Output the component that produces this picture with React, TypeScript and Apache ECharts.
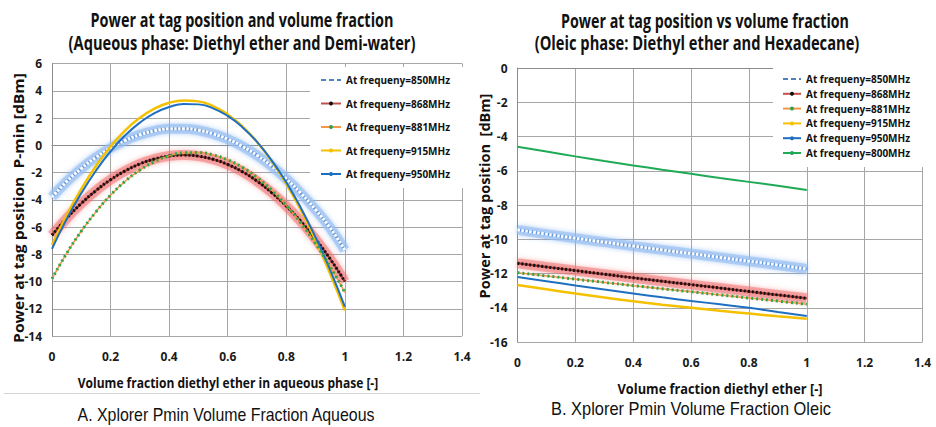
import React, { useEffect, useRef } from "react";
import * as echarts from "echarts";

// ---------- data ----------
const X_AQ = [0, 0.05, 0.1, 0.15, 0.2, 0.25, 0.3, 0.35, 0.4, 0.45, 0.5, 0.55, 0.6, 0.65, 0.7, 0.75, 0.8, 0.85, 0.9, 0.95, 1.0];
const AQ_850 = [-3.8, -2.67, -1.71, -0.89, -0.2, 0.36, 0.77, 1.06, 1.21, 1.22, 1.1, 0.84, 0.45, -0.08, -0.74, -1.53, -2.47, -3.53, -4.73, -6.07, -7.7];
const AQ_868 = [-6.6, -5.36, -4.27, -3.33, -2.53, -1.88, -1.37, -1.01, -0.79, -0.72, -0.8, -1.03, -1.41, -1.94, -2.63, -3.47, -4.46, -5.6, -6.9, -8.35, -10.0];
const AQ_881 = [-9.8, -7.93, -6.31, -4.89, -3.66, -2.64, -1.82, -1.2, -0.78, -0.56, -0.54, -0.71, -1.07, -1.62, -2.36, -3.29, -4.41, -5.72, -7.22, -8.92, -10.8];
const AQ_915 = [-7.3, -5.14, -3.21, -1.52, -0.09, 1.09, 2.01, 2.69, 3.12, 3.29, 3.22, 2.87, 2.26, 1.39, 0.25, -1.15, -2.83, -4.77, -6.98, -9.45, -12.14];
const AQ_950 = [-7.6, -5.42, -3.52, -1.87, -0.45, 0.73, 1.66, 2.36, 2.81, 3.03, 3.0, 2.71, 2.15, 1.33, 0.25, -1.11, -2.72, -4.6, -6.75, -9.16, -11.85];

const X_OL = [0, 0.1, 0.2, 0.3, 0.4, 0.5, 0.6, 0.7, 0.8, 0.9, 1.0];
const OL_850 = [-9.45, -9.7, -9.94, -10.17, -10.4, -10.62, -10.84, -11.06, -11.28, -11.5, -11.74];
const OL_868 = [-11.4, -11.62, -11.83, -12.04, -12.25, -12.45, -12.65, -12.85, -13.05, -13.25, -13.45];
const OL_881 = [-11.95, -12.14, -12.33, -12.52, -12.71, -12.89, -13.07, -13.25, -13.43, -13.61, -13.8];
const OL_915 = [-12.67, -12.92, -13.17, -13.4, -13.62, -13.82, -14.0, -14.18, -14.34, -14.5, -14.64];
const OL_950 = [-12.2, -12.45, -12.7, -12.94, -13.17, -13.39, -13.6, -13.8, -14.0, -14.25, -14.48];
const OL_800 = [-4.6, -4.88, -5.16, -5.43, -5.69, -5.94, -6.18, -6.42, -6.65, -6.88, -7.12];

const NAMES_AQ = ["At frequeny=850MHz", "At frequeny=868MHz", "At frequeny=881MHz", "At frequeny=915MHz", "At frequeny=950MHz"];
const NAMES_OL = ["At frequeny=850MHz", "At frequeny=868MHz", "At frequeny=881MHz", "At frequeny=915MHz", "At frequeny=950MHz", "At frequeny=800MHz"];

const TITLE_AQ = ["Power at tag position and volume fraction", "(Aqueous phase: Diethyl ether and Demi-water)"];
const TITLE_OL = ["Power at tag position vs volume fraction", "(Oleic phase: Diethyl ether and Hexadecane)"];
const XNAME_AQ = "Volume fraction diethyl ether in aqueous phase [-]";
const XNAME_OL = "Volume fraction diethyl ether [-]";
const YNAME_AQ = "Power at tag position  P-min [dBm]";
const YNAME_OL = "Power at tag position  [dBm]";
const CAPTION_A = "A. Xplorer Pmin Volume Fraction Aqueous";
const CAPTION_B = "B. Xplorer Pmin Volume Fraction Oleic";

const SANS = "'Open Sans', 'Noto Sans', sans-serif";
const ARIAL = "'Liberation Sans', Arial, sans-serif";

const pts = (xs: number[], ys: number[]) => xs.map((x, i) => [x, ys[i]]);

const C850 = "#4f81bd";
const C868 = "#c0504d";
const C881 = "#f79646";
const C881DOT = "#2ea44f";
const C915 = "#f5c000";
const C950 = "#1f6fc0";
const C800 = "#1faa55";

function legendData(names: string[]) {
  const styles: Record<string, any> = {
    "At frequeny=850MHz": { lineStyle: { color: C850, type: [5, 3], width: 2, shadowBlur: 0, opacity: 1 }, itemStyle: { color: "rgba(0,0,0,0)" } },
    "At frequeny=868MHz": { lineStyle: { color: C868, width: 2, shadowBlur: 0, type: "solid", opacity: 1 }, itemStyle: { color: "#111" } },
    "At frequeny=881MHz": { lineStyle: { color: C881, width: 2, shadowBlur: 0, type: "solid", opacity: 1 }, itemStyle: { color: C881DOT } },
    "At frequeny=915MHz": { lineStyle: { color: C915, width: 2, shadowBlur: 0, opacity: 1 }, itemStyle: { color: C915 } },
    "At frequeny=950MHz": { lineStyle: { color: C950, width: 2, shadowBlur: 0, opacity: 1 }, itemStyle: { color: C950 } },
    "At frequeny=800MHz": { lineStyle: { color: C800, width: 2, shadowBlur: 0, opacity: 1 }, itemStyle: { color: C800 } },
  };
  return names.map((n) => ({ name: n, ...styles[n] }));
}

function seriesFor(xi: number, xs: number[], d850: number[], d868: number[], d881: number[], d915: number[], d950: number[]) {
  const base = { type: "line", xAxisIndex: xi, yAxisIndex: xi, smooth: true, silent: true, symbol: "none" };
  return [
    // 850 : blue glow + blue core + white dots
    {
      ...base,
      name: "At frequeny=850MHz",
      data: pts(xs, d850),
      lineStyle: { color: "rgba(150,190,240,0.6)", width: 10, shadowColor: "rgba(120,170,240,0.9)", shadowBlur: 5 },
      z: 2,
    },
    { ...base, name: "_850core", data: pts(xs, d850), lineStyle: { color: "#6a9bdb", width: 3 }, z: 3 },
    { ...base, name: "_850dots", data: pts(xs, d850), lineStyle: { color: "#ffffff", width: 3, type: [2.5, 1.5] }, z: 3 },
    // 868 : red glow + black dots
    {
      ...base,
      name: "At frequeny=868MHz",
      data: pts(xs, d868),
      lineStyle: { color: "rgba(240,110,110,0.5)", width: 10, shadowColor: "rgba(240,90,90,0.8)", shadowBlur: 5 },
      z: 2,
    },
    { ...base, name: "_868core", data: pts(xs, d868), lineStyle: { color: "#9a3030", width: 2 }, z: 3 },
    { ...base, name: "_868dots", data: pts(xs, d868), lineStyle: { color: "#111111", width: 3, type: [2, 2] }, z: 3 },
    // 881 : orange line with green dots
    { ...base, name: "At frequeny=881MHz", data: pts(xs, d881), lineStyle: { color: C881, width: 1.5 }, z: 4 },
    { ...base, name: "_881dots", data: pts(xs, d881), lineStyle: { color: C881DOT, width: 3, type: [2, 3] }, z: 5 },
    // 915
    { ...base, name: "At frequeny=915MHz", data: pts(xs, d915), lineStyle: { color: C915, width: 2.5 }, z: 4 },
    // 950
    { ...base, name: "At frequeny=950MHz", data: pts(xs, d950), lineStyle: { color: C950, width: 2 }, z: 4 },
  ];
}

let measureCtx: CanvasRenderingContext2D | null = null;
function measure(text: string, font: string) {
  if (!measureCtx) measureCtx = document.createElement("canvas").getContext("2d");
  if (!measureCtx) return 1;
  measureCtx.font = font;
  return measureCtx.measureText(text).width || 1;
}

export default function App() {
  const ref = useRef<HTMLDivElement>(null);

  useEffect(() => {
    document.body.style.margin = "0";
    if (!ref.current) return;
    const chart = echarts.init(ref.current, undefined, { renderer: "svg" });

    const axisLabel = { fontFamily: SANS, fontWeight: "bold", fontSize: 12, color: "#1a1a1a" };
    const splitLine = { show: true, lineStyle: { color: "#a6a6a6", width: 1 } };
    const axisLine = { show: true, lineStyle: { color: "#8c8c8c", width: 1 } };

    // text fitted to the width measured in the reference
    const txt = (text: string, x: number, y: number, font: string, width: number, rotation = 0) => ({
      type: "text",
      x,
      y,
      z: 100,
      silent: true,
      rotation,
      scaleX: width / measure(text, font),
      style: { text, font, fill: "#111", textAlign: "center", textVerticalAlign: "middle" },
    });

    const titleFont = `bold 19px ${SANS}`;
    const nameFont = `bold 15px ${SANS}`;
    const capFont = `18px ${ARIAL}`;

    const legendText = { fontFamily: SANS, fontWeight: "bold", fontSize: 10, color: "#111" };

    const option: any = {
      animation: false,
      backgroundColor: "#ffffff",
      grid: [
        { left: 52, top: 63.5, width: 410, height: 272.5, containLabel: false },
        { left: 517.5, top: 68, width: 405, height: 274, containLabel: false },
      ],
      xAxis: [
        { type: "value", gridIndex: 0, min: 0, max: 1.4, interval: 0.2, axisLine, axisTick: { show: false }, splitLine, axisLabel: { ...axisLabel, margin: 14 } },
        { type: "value", gridIndex: 1, min: 0, max: 1.4, interval: 0.2, axisLine, axisTick: { show: false }, splitLine, axisLabel: { ...axisLabel, margin: 14.5 } },
      ],
      yAxis: [
        { type: "value", gridIndex: 0, min: -14, max: 6, interval: 2, axisLine, axisTick: { show: false }, splitLine, axisLabel: { ...axisLabel, margin: 10 } },
        { type: "value", gridIndex: 1, min: -16, max: 0, interval: 2, axisLine, axisTick: { show: false }, splitLine, axisLabel: { ...axisLabel, margin: 10 } },
      ],
      legend: [
        {
          orient: "vertical",
          left: 310,
          top: 67,
          itemWidth: 20,
          itemHeight: 5,
          itemGap: 13.5,
          padding: [8, 16, 9, 10],
          backgroundColor: "#ffffff",
          textStyle: legendText,
          data: legendData(NAMES_AQ),
          selectedMode: false,
          z: 10,
        },
        {
          orient: "vertical",
          left: 773,
          top: 67,
          itemWidth: 18,
          itemHeight: 5,
          itemGap: 4.8,
          padding: [7, 16, 9, 9],
          backgroundColor: "#ffffff",
          textStyle: legendText,
          data: legendData(NAMES_OL),
          selectedMode: false,
          z: 10,
        },
      ],
      series: [
        ...seriesFor(0, X_AQ, AQ_850, AQ_868, AQ_881, AQ_915, AQ_950),
        ...seriesFor(1, X_OL, OL_850, OL_868, OL_881, OL_915, OL_950),
        {
          type: "line",
          name: "At frequeny=800MHz",
          xAxisIndex: 1,
          yAxisIndex: 1,
          smooth: true,
          silent: true,
          data: pts(X_OL, OL_800),
          symbol: "none",
          lineStyle: { color: C800, width: 2 },
          z: 4,
        },
      ],
      graphic: [
        txt(TITLE_AQ[0], 242, 20, titleFont, 303),
        txt(TITLE_AQ[1], 242, 43, titleFont, 347),
        txt(TITLE_OL[0], 705, 21, titleFont, 288),
        txt(TITLE_OL[1], 697, 43, titleFont, 325),
        txt(XNAME_AQ, 228, 382, nameFont, 301),
        txt(XNAME_OL, 720, 388, nameFont, 205),
        txt(YNAME_AQ, 18, 208, nameFont, 270, Math.PI / 2),
        txt(YNAME_OL, 484, 196, nameFont, 205, Math.PI / 2),
        {
          type: "line",
          silent: true,
          z: 100,
          shape: { x1: 4, y1: 393.5, x2: 480, y2: 393.5 },
          style: { stroke: "#d4d4d4", lineWidth: 1 },
        },
        txt(CAPTION_A, 226, 415, capFont, 298),
        txt(CAPTION_B, 691, 409, capFont, 280),
      ],
    };

    chart.setOption(option);
    return () => chart.dispose();
  }, []);

  return <div ref={ref} style={{ width: 936, height: 427 }} />;
}
